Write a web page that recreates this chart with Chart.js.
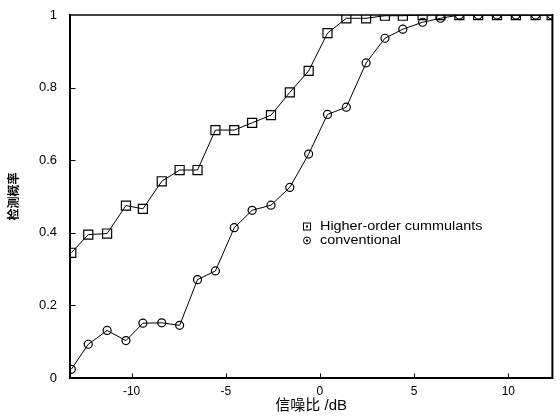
<!DOCTYPE html>
<html>
<head>
<meta charset="utf-8">
<script src="https://cdn.jsdelivr.net/npm/chart.js@4/dist/chart.umd.min.js"></script>
<style>
  html, body { margin: 0; padding: 0; background: #fff; }
  #wrap { width: 560px; height: 418px; }
</style>
</head>
<body>
<div id="wrap"><canvas id="chart" width="560" height="418"></canvas></div>
<script>
// SNR (dB) of each sample
const snrDb = [-13.2, -12.3, -11.3, -10.3, -9.4, -8.4, -7.45, -6.5, -5.55, -4.55, -3.6, -2.6, -1.6, -0.6,
  0.4, 1.4, 2.45, 3.45, 4.4, 5.45, 6.4, 7.4, 8.4, 9.4, 10.4, 11.45, 12.3];
const higherOrder = [0.345, 0.395, 0.398, 0.475, 0.466, 0.542, 0.573, 0.573, 0.683, 0.683, 0.703, 0.724, 0.787, 0.846,
  0.950, 0.991, 0.991, 0.998, 0.998, 1, 1, 1, 1, 1, 1, 1, 1];
const conventional = [0.024, 0.093, 0.131, 0.103, 0.151, 0.152, 0.145, 0.271, 0.295, 0.414, 0.462, 0.476, 0.525, 0.617,
  0.726, 0.746, 0.868, 0.936, 0.961, 0.980, 0.991, 1, 1, 1, 1, 1, 1];
const xTicks = [-10, -5, 0, 5, 10];
const yTicks = [0, 0.2, 0.4, 0.6, 0.8, 1];
const yTickText = ["0", "0.2", "0.4", "0.6", "0.8", "1"];
const seriesNames = ["Higher-order cummulants", "conventional"];

const FONT = '"Liberation Sans", Arial, "Noto Sans CJK SC", sans-serif';

const framePlugin = {
  id: "frame",
  afterDraw(chart) {
    const { ctx, chartArea: a, scales } = chart;
    ctx.save();
    ctx.strokeStyle = "#000";
    ctx.lineCap = "square";
    // box
    ctx.lineWidth = 2;
    ctx.beginPath();
    ctx.moveTo(a.left, a.top); ctx.lineTo(a.left, a.bottom); ctx.lineTo(a.right, a.bottom);
    ctx.lineTo(a.right, a.top);
    ctx.stroke();
    ctx.lineWidth = 1.5;
    ctx.beginPath();
    ctx.moveTo(a.left, a.top); ctx.lineTo(a.right, a.top);
    ctx.stroke();
    // inward ticks
    ctx.lineWidth = 1;
    ctx.beginPath();
    xTicks.forEach((v) => {
      const px = Math.round(scales.x.getPixelForValue(v)) + 0.5;
      ctx.moveTo(px, a.bottom); ctx.lineTo(px, a.bottom - 4);
    });
    yTicks.slice(1, -1).forEach((v) => {
      const py = Math.round(scales.y.getPixelForValue(v)) + 0.5;
      ctx.moveTo(a.left, py); ctx.lineTo(a.left + 5, py);
    });
    ctx.stroke();

    // legend inside the plot
    const lx = 307, rows = [226.5, 240.5];
    ctx.lineWidth = 1;
    ctx.strokeRect(lx - 3.5, rows[0] - 3.5, 7, 7);
    ctx.beginPath(); ctx.arc(lx, rows[1], 3.5, 0, Math.PI * 2); ctx.stroke();
    ctx.fillStyle = "#000";
    rows.forEach((r) => ctx.fillRect(lx - 1, r - 1, 2, 2));
    ctx.font = "12px " + FONT;
    ctx.textBaseline = "middle";
    rows.forEach((r, i) => {
      ctx.save();
      ctx.translate(320, r);
      ctx.scale(1.2, 1);
      ctx.fillText(seriesNames[i], 0, 0);
      ctx.restore();
    });
    ctx.restore();
  },
};

const pt = (ys) => snrDb.map((x, i) => ({ x, y: ys[i] }));

new Chart(document.getElementById("chart"), {
  type: "line",
  data: {
    datasets: [
      {
        label: seriesNames[1],
        data: pt(conventional),
        borderColor: "#000",
        borderWidth: 1,
        pointStyle: "circle",
        pointRadius: 4,
        pointBorderWidth: 1.2,
        pointBorderColor: "#000",
        pointBackgroundColor: "rgba(0,0,0,0)",
        tension: 0,
      },
      {
        label: seriesNames[0],
        data: pt(higherOrder),
        borderColor: "#000",
        borderWidth: 1,
        pointStyle: "rect",
        pointRadius: 6.4,
        pointBorderWidth: 1.2,
        pointBorderColor: "#000",
        pointBackgroundColor: "rgba(0,0,0,0)",
        tension: 0,
      },
    ],
  },
  options: {
    responsive: false,
    animation: false,
    devicePixelRatio: 1,
    layout: { padding: { top: 15, right: 6, left: 0, bottom: 0 } },
    plugins: { legend: { display: false }, tooltip: { enabled: false } },
    scales: {
      x: {
        type: "linear",
        min: -13.27,
        max: 12.34,
        afterBuildTicks: (s) => { s.ticks = xTicks.map((v) => ({ value: v })); },
        afterFit: (s) => { s.height = 40; s.paddingLeft = 0; s.paddingRight = 0; },
        grid: { display: false, drawTicks: false },
        border: { display: false },
        ticks: { color: "#000", font: { family: FONT, size: 12 }, padding: 6, maxRotation: 0 },
        title: {
          display: true,
          text: "信噪比 /dB",
          color: "#000",
          font: { family: FONT, size: 15 },
          padding: { top: 0, bottom: 3 },
        },
      },
      y: {
        min: 0,
        max: 1,
        afterBuildTicks: (s) => { s.ticks = yTicks.map((v) => ({ value: v })); },
        afterFit: (s) => { s.width = 70; s.paddingTop = 0; s.paddingBottom = 0; },
        grid: { display: false, drawTicks: false },
        border: { display: false },
        ticks: {
          color: "#000",
          font: { family: FONT, size: 13 },
          padding: 13,
          callback: (v, i) => yTickText[i],
        },
        title: {
          display: true,
          text: "检测概率",
          color: "#000",
          font: { family: FONT, size: 12, weight: "bold" },
          padding: { top: 7, bottom: 0 },
        },
      },
    },
  },
  plugins: [framePlugin],
});
</script>
</body>
</html>
